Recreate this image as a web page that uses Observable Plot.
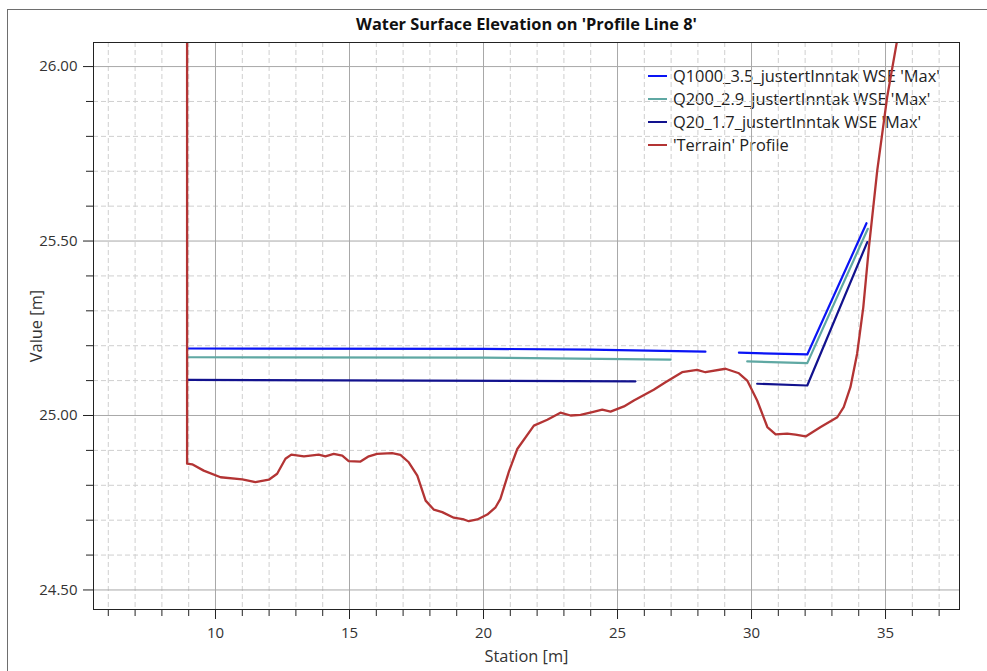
<!DOCTYPE html>
<html><head><meta charset="utf-8">
<script src="https://cdn.jsdelivr.net/npm/d3@7"></script>
<script src="https://cdn.jsdelivr.net/npm/@observablehq/plot@0.6"></script>
<style>
body{margin:0;background:#fff;font-family:"Open Sans",sans-serif;}
#wrap{position:relative;width:987px;height:671px;overflow:hidden;background:#fff;}
#border{position:absolute;left:7px;top:9px;width:990px;height:700px;border:1px solid #6e6e6e;}
#title{position:absolute;left:93px;width:867px;top:12px;text-align:center;font-weight:bold;font-size:16.4px;color:#111;}
#chart{position:absolute;left:0;top:0;}
#legend{position:absolute;left:648px;top:64px;font-size:16.4px;color:#222;}
#legend .row{display:flex;align-items:center;white-space:nowrap;height:23px;line-height:23px;}
#legend .sw{display:block;width:19px;height:2px;margin-right:6px;flex:none;}
</style></head>
<body>
<div id="wrap">
  <div id="border"></div>
  <div id="title">Water Surface Elevation on 'Profile Line 8'</div>
  <div id="legend"></div>
  <div id="chart"></div>
</div>
<script>
// ---- data ----
const terrainStation = [8.94, 8.94, 9.13, 9.56, 10.19, 11.00, 11.49, 11.99, 12.30, 12.61, 12.83, 13.30, 13.85, 14.10, 14.41, 14.73, 14.97, 15.41, 15.72, 16.03, 16.59, 16.90, 17.21, 17.53, 17.84, 18.15, 18.46, 18.89, 19.27, 19.45, 19.77, 20.14, 20.45, 20.63, 20.95, 21.26, 21.88, 22.38, 22.87, 23.25, 23.62, 24.06, 24.43, 24.74, 25.24, 25.61, 26.35, 26.79, 27.41, 27.97, 28.28, 29.03, 29.53, 29.84, 30.21, 30.59, 30.90, 31.33, 31.64, 32.02, 32.58, 33.20, 33.44, 33.69, 33.94, 34.17, 34.38, 34.69, 35.06, 35.41, 35.60];
const terrainValue = [26.30, 24.862, 24.860, 24.842, 24.823, 24.817, 24.809, 24.816, 24.833, 24.876, 24.888, 24.883, 24.888, 24.883, 24.890, 24.885, 24.869, 24.868, 24.883, 24.890, 24.892, 24.887, 24.866, 24.828, 24.756, 24.730, 24.723, 24.707, 24.702, 24.697, 24.702, 24.716, 24.737, 24.761, 24.840, 24.904, 24.971, 24.988, 25.008, 25.000, 25.002, 25.010, 25.017, 25.011, 25.026, 25.043, 25.074, 25.095, 25.124, 25.131, 25.124, 25.134, 25.121, 25.100, 25.043, 24.967, 24.946, 24.948, 24.945, 24.940, 24.967, 24.995, 25.024, 25.081, 25.177, 25.310, 25.482, 25.702, 25.912, 26.065, 26.150];

// WSE series: station, value, segment id
const q1000Station = [9.00, 20.00, 24.00, 28.28, 29.53, 32.08, 34.29];
const q1000Value   = [25.192, 25.191, 25.189, 25.183, 25.180, 25.175, 25.551];
const q1000Seg     = [1, 1, 1, 1, 2, 2, 2];

const q200Station = [9.00, 20.00, 26.98, 29.84, 32.08, 34.34];
const q200Value   = [25.167, 25.166, 25.160, 25.155, 25.150, 25.535];
const q200Seg     = [1, 1, 1, 2, 2, 2];

const q20Station = [9.00, 25.67, 30.21, 32.08, 34.32];
const q20Value   = [25.102, 25.098, 25.091, 25.086, 25.497];
const q20Seg     = [1, 1, 2, 2, 2];

const seriesNames = ["Q1000_3.5_justertInntak WSE 'Max'", "Q200_2.9_justertInntak WSE 'Max'", "Q20_1.7_justertInntak WSE 'Max'", "'Terrain' Profile"];
const seriesColors = ["#0a14f5", "#5fa8a3", "#12128e", "#b33434"];

const xMajorTicks = [10, 15, 20, 25, 30, 35];
const xMinorTicks = [6, 7, 8, 9, 11, 12, 13, 14, 16, 17, 18, 19, 21, 22, 23, 24, 26, 27, 28, 29, 31, 32, 33, 34, 36, 37];
const yMajorTicks = [24.5, 25.0, 25.5, 26.0];
const yMinorTicks = [24.6, 24.7, 24.8, 24.9, 25.1, 25.2, 25.3, 25.4, 25.6, 25.7, 25.8, 25.9];

// ---- tables ----
const terrain = terrainStation.map((s, i) => ({s, v: terrainValue[i]}));
const mk = (st, va, sg) => st.map((s, i) => ({s, v: va[i], seg: sg[i]}));
const q1000 = mk(q1000Station, q1000Value, q1000Seg);
const q200 = mk(q200Station, q200Value, q200Seg);
const q20 = mk(q20Station, q20Value, q20Seg);

const chart = Plot.plot({
  width: 987,
  height: 671,
  marginLeft: 93,
  marginRight: 28,
  marginTop: 42,
  marginBottom: 62,
  style: {fontFamily: "'Open Sans', sans-serif", fontSize: "15px", color: "#333", background: "transparent"},
  x: {domain: [5.448, 37.76], label: null},
  y: {domain: [24.444, 26.069], label: null},
  marks: [
    Plot.gridX(xMinorTicks, {stroke: "#cfcfcf", strokeOpacity: 1, strokeDasharray: "5,3"}),
    Plot.gridY(yMinorTicks, {stroke: "#cfcfcf", strokeOpacity: 1, strokeDasharray: "5,3"}),
    Plot.gridX(xMajorTicks, {stroke: "#a8a8a8", strokeOpacity: 1}),
    Plot.gridY(yMajorTicks, {stroke: "#a8a8a8", strokeOpacity: 1}),
    Plot.axisX(xMinorTicks, {tickSize: 7, text: null, label: null, stroke: "#222"}),
    Plot.axisY(yMinorTicks, {tickSize: 7, text: null, label: null, stroke: "#222"}),
    Plot.axisX(xMajorTicks, {tickSize: 10, tickPadding: 8, stroke: "#222", label: "Station [m]", labelAnchor: "center", labelArrow: "none", labelOffset: 52, fontSize: 15}),
    Plot.axisY(yMajorTicks, {tickSize: 10, tickPadding: 6, tickFormat: d => d.toFixed(2), stroke: "#222", label: "Value [m]", labelAnchor: "center", labelArrow: "none", labelOffset: 63, fontSize: 15}),
    Plot.line(q1000, {x: "s", y: "v", z: "seg", stroke: seriesColors[0], strokeWidth: 2.2}),
    Plot.line(q200, {x: "s", y: "v", z: "seg", stroke: seriesColors[1], strokeWidth: 2.2}),
    Plot.line(q20, {x: "s", y: "v", z: "seg", stroke: seriesColors[2], strokeWidth: 2.2}),
    Plot.line(terrain, {x: "s", y: "v", stroke: seriesColors[3], strokeWidth: 2.3, clip: true}),
    Plot.frame({stroke: "#222"})
  ]
});
// axis titles slightly larger than tick labels, as in the reference
chart.querySelectorAll("[aria-label='x-axis label'] text, [aria-label='y-axis label'] text").forEach(t => t.setAttribute("font-size", "16.4"));
document.getElementById("chart").appendChild(chart);

const legend = document.getElementById("legend");
seriesNames.forEach((n, i) => {
  const row = document.createElement("div");
  row.className = "row";
  const sw = document.createElement("span");
  sw.className = "sw";
  sw.style.background = seriesColors[i];
  const t = document.createElement("span");
  t.textContent = n;
  row.appendChild(sw); row.appendChild(t);
  legend.appendChild(row);
});
</script>
</body></html>
